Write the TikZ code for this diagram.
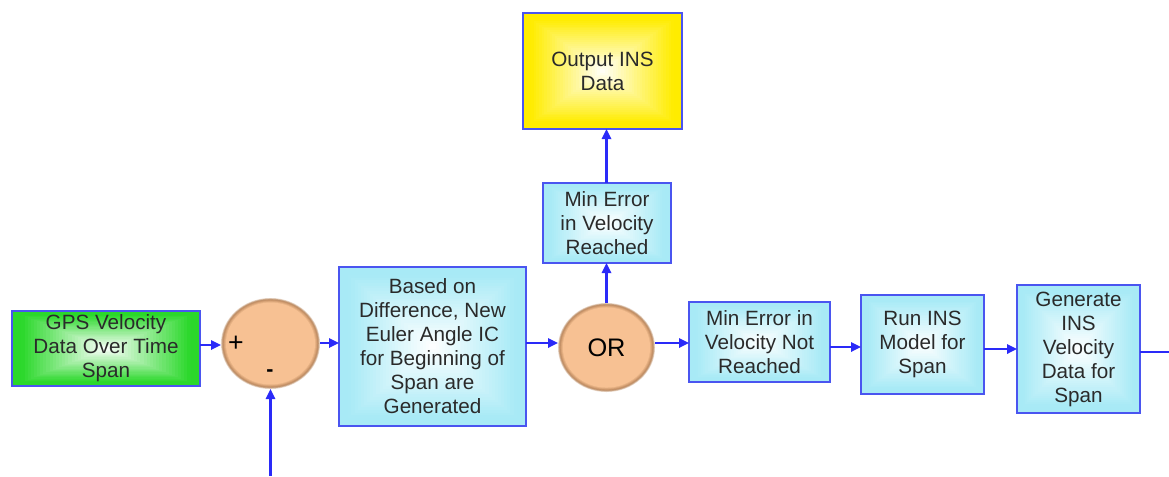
\documentclass[tikz,border=0pt]{standalone}
\usepackage{fontspec}
\setmainfont{Liberation Sans}
\usetikzlibrary{arrows.meta,shapes.geometric,calc,backgrounds}
\definecolor{boxcyan}{HTML}{A8EAF6}
\definecolor{boxgreen}{HTML}{2BD82B}
\definecolor{boxyellow}{HTML}{FFEC00}
\definecolor{edgeblue}{HTML}{4A55F0}
\definecolor{arrblue}{HTML}{2A2AF8}
\definecolor{peach}{HTML}{F7C193}
\definecolor{peachrim}{HTML}{B88458}
\definecolor{txt}{HTML}{2A2A2A}
\tikzset{
  blk/.style={rectangle, draw=edgeblue, line width=1.3pt, inner sep=0pt, outer sep=0pt,
    align=center, text=txt, font=\fontsize{15.5}{18}\selectfont},
  ball/.style={ellipse, inner sep=0pt, outer sep=0pt, text=black},
  arr/.style={draw=arrblue, line width=1.6pt, -{Triangle[length=7.5pt,width=7pt]}},
  ln/.style={draw=arrblue, line width=1.6pt},
  sign/.style={text=black, inner sep=0pt}
}
\begin{document}
\begin{tikzpicture}[x=0.75pt,y=-0.75pt]
\useasboundingbox (0,0) rectangle (1169,476);
\node[blk, minimum width=141pt, minimum height=56.25pt] (gps) at (106,348.5)
  {GPS Velocity\\Data Over Time\\Span};
\node[ball, minimum width=74.25pt, minimum height=68.25pt] (sum) at (270.5,343.5) {};
\node[sign, font=\fontsize{20}{20}\selectfont] (plus) at (236,344) {+};
\node[sign, font=\fontsize{16}{16}\selectfont\bfseries] (minus) at (270,373) {-};
\node[blk, minimum width=140.25pt, minimum height=119.25pt] (based) at (432.5,346.5)
  {Based on\\Difference, New\\Euler Angle IC\\for Beginning of\\Span are\\Generated};
\node[ball, minimum width=72.75pt, minimum height=66.75pt, font=\fontsize{19}{19}\selectfont] (or) at (606.5,347.5) {OR};
\node[blk, minimum width=96pt, minimum height=60pt] (reached) at (607,223)
  {Min Error\\in Velocity\\Reached};
\node[blk, minimum width=119.25pt, minimum height=87pt] (out) at (602.5,71)
  {Output INS\\Data};
\node[blk, minimum width=105.75pt, minimum height=60pt] (notr) at (759.5,342)
  {Min Error in\\Velocity Not\\Reached};
\node[blk, minimum width=92.25pt, minimum height=74.25pt] (run) at (922.5,344.5)
  {Run INS\\Model for\\Span};
\node[blk, minimum width=92.25pt, minimum height=96pt] (gen) at (1078.5,349)
  {Generate\\INS\\Velocity\\Data for\\Span};
\begin{scope}[on background layer]
  \foreach \n/\c in {gps/boxgreen, based/boxcyan, reached/boxcyan, out/boxyellow,
                     notr/boxcyan, run/boxcyan, gen/boxcyan} {
    \foreach \i in {0,...,29} {
      \pgfmathsetmacro\f{1-\i/30}
      \pgfmathsetmacro\p{min(100,110*\f)}
      \fill[\c!\p!white] ($(\n.center)!\f!(\n.north east)$) rectangle ($(\n.center)!\f!(\n.south west)$);
    }
  }
  \foreach \n/\rx/\ry in {sum/37.125pt/34.125pt, or/36.375pt/33.375pt} {
    \foreach \f/\col in {1.00/peachrim!35!white, 0.985/peachrim!70!white, 0.97/peachrim!90!white,
                         0.955/peachrim!75!peach, 0.94/peachrim!50!peach,
                         0.92/peachrim!25!peach, 0.90/peach} {
      \fill[\col] (\n.center) ellipse [x radius=\f*\rx, y radius=\f*\ry];
    }
  }
\end{scope}
\coordinate (bot) at (270.5,476);
\coordinate (rend) at (1169,352);
\draw[arr] (gps.east |- 0,345) -- (sum.west |- 0,345);
\draw[arr] (bot) -- (sum.south);
\draw[arr] (sum.east |- 0,343) -- (based.west |- 0,343);
\draw[arr] (based.east |- 0,343) -- (or.west |- 0,343);
\draw[arr] (or.north) -- (reached.south -| or.north);
\draw[arr] (reached.north -| or.north) -- (out.south -| or.north);
\draw[arr] (or.east |- 0,343) -- (notr.west |- 0,343);
\draw[arr] (notr.east |- 0,347) -- (run.west |- 0,347);
\draw[arr] (run.east |- 0,349) -- (gen.west |- 0,349);
\draw[ln] (gen.east |- rend) -- (rend);
\end{tikzpicture}
\end{document}
